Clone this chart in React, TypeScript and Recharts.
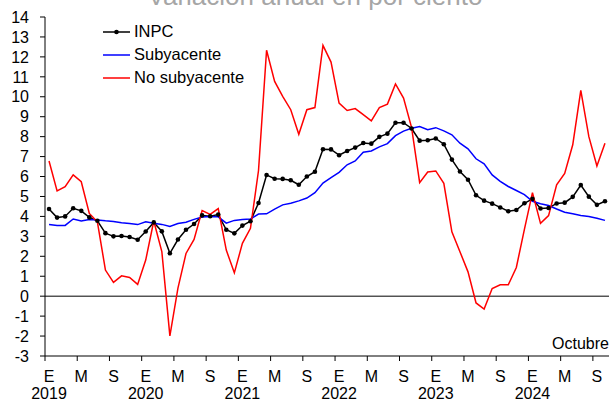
import React from "react";
import { LineChart, Line, XAxis, YAxis, ReferenceLine, Legend } from "recharts";

// variación anual en por ciento, enero 2019 - octubre 2024
const years = [2019, 2020, 2021, 2022, 2023, 2024];
const monthLetters = ["E", "F", "M", "A", "M", "J", "J", "A", "S", "O", "N", "D"];

const inpc = [
  4.37, 3.94, 4.0, 4.41, 4.28, 3.95, 3.78, 3.16, 3.0, 3.02, 2.97, 2.83,
  3.24, 3.7, 3.25, 2.15, 2.84, 3.33, 3.62, 4.05, 4.01, 4.09, 3.33, 3.15,
  3.54, 3.76, 4.67, 6.08, 5.89, 5.88, 5.81, 5.59, 6.0, 6.24, 7.37, 7.36,
  7.07, 7.28, 7.45, 7.68, 7.65, 7.99, 8.15, 8.7, 8.7, 8.41, 7.8, 7.82,
  7.91, 7.62, 6.85, 6.25, 5.84, 5.06, 4.79, 4.64, 4.45, 4.26, 4.32, 4.66,
  4.88, 4.4, 4.42, 4.65, 4.69, 4.98, 5.57, 4.99, 4.58, 4.76,
];
const subyacente = [
  3.6, 3.54, 3.55, 3.87, 3.77, 3.85, 3.82, 3.78, 3.75, 3.68, 3.65, 3.59,
  3.73, 3.66, 3.6, 3.5, 3.64, 3.71, 3.85, 3.97, 3.99, 3.98, 3.66, 3.8,
  3.84, 3.87, 4.12, 4.13, 4.37, 4.58, 4.66, 4.78, 4.92, 5.19, 5.67, 5.94,
  6.21, 6.59, 6.78, 7.22, 7.28, 7.49, 7.65, 8.05, 8.28, 8.42, 8.51, 8.35,
  8.45, 8.29, 8.09, 7.67, 7.39, 6.89, 6.64, 6.08, 5.76, 5.5, 5.3, 5.09,
  4.76, 4.64, 4.55, 4.37, 4.21, 4.13, 4.05, 4.0, 3.91, 3.8,
];
const noSubyacente = [
  6.78, 5.28, 5.49, 6.08, 5.74, 4.15, 3.73, 1.31, 0.69, 1.02, 0.94, 0.59,
  1.81, 3.77, 2.24, -1.99, 0.4, 2.14, 2.85, 4.29, 4.1, 4.39, 2.31, 1.17,
  2.65, 3.4, 6.3, 12.33, 10.77, 10.02, 9.35, 8.12, 9.35, 9.46, 12.58, 11.74,
  9.68, 9.31, 9.41, 9.1, 8.79, 9.46, 9.63, 10.64, 9.93, 8.45, 5.69, 6.23,
  6.28, 5.66, 3.23, 2.23, 1.22, -0.34, -0.65, 0.38, 0.57, 0.57, 1.44, 3.35,
  5.19, 3.65, 4.04, 5.58, 6.16, 7.59, 10.32, 8.0, 6.53, 7.67,
];
const yTicks = [-3, -2, -1, 0, 1, 2, 3, 4, 5, 6, 7, 8, 9, 10, 11, 12, 13, 14];

const series = [
  { key: "inpc", name: "INPC", color: "#000000", dot: true },
  { key: "sub", name: "Subyacente", color: "#0000ff", dot: false },
  { key: "noSub", name: "No subyacente", color: "#ff0000", dot: false },
];

const W = 610;
const H = 402;
const M_TOP = 17;
const M_RIGHT = 1;
const Y_W = 45;
const X_H = 46;
const PLOT_W = W - Y_W - M_RIGHT;
const PLOT_BOTTOM = H - X_H;
const HALF_BAND = PLOT_W / inpc.length / 2;
const FONT = "'Liberation Sans', Arial, sans-serif";

const data = inpc.map((v, i) => ({
  idx: i,
  inpc: v,
  sub: subyacente[i],
  noSub: noSubyacente[i],
}));

// tick marks sit between months, every four months (E, M, S)
const xTicks = data.filter((d) => d.idx % 4 === 0).map((d) => d.idx - 0.5);

const MonthTick = (props: any) => {
  const { x, payload } = props;
  const i = Math.round(payload.value + 0.5);
  const cx = x + HALF_BAND;
  return (
    <g>
      <line x1={x} x2={x} y1={PLOT_BOTTOM} y2={PLOT_BOTTOM + 5} stroke="#000" />
      <text x={cx} y={381.5} textAnchor="middle" fontSize={16} fill="#000" fontFamily={FONT}>
        {monthLetters[i % 12]}
      </text>
      {i % 12 === 0 && (
        <text x={cx} y={398.5} textAnchor="middle" fontSize={16} fill="#000" fontFamily={FONT}>
          {years[i / 12]}
        </text>
      )}
    </g>
  );
};

const LegendBox = () => (
  <div style={{ fontFamily: FONT, fontSize: 16.5, color: "#000" }}>
    {series.map((s) => (
      <div key={s.key} style={{ display: "flex", alignItems: "center", height: 23 }}>
        <svg width={27} height={10} style={{ marginRight: 4 }}>
          <line x1={0} x2={27} y1={5} y2={5} stroke={s.color} strokeWidth={1.5} />
          {s.dot && <circle cx={13.5} cy={5} r={2.3} fill={s.color} />}
        </svg>
        <span style={{ whiteSpace: "nowrap" }}>{s.name}</span>
      </div>
    ))}
  </div>
);

export default function App() {
  return (
    <div style={{ position: "absolute", left: 0, top: 0, width: W, height: H, background: "#fff" }}>
      <LineChart width={W} height={H} data={data} margin={{ top: M_TOP, right: M_RIGHT, bottom: 0, left: 0 }}>
        <XAxis
          dataKey="idx"
          type="number"
          domain={[-0.5, inpc.length - 0.5]}
          ticks={xTicks}
          interval={0}
          height={X_H}
          tickLine={false}
          axisLine={{ stroke: "#000" }}
          tick={<MonthTick />}
        />
        <YAxis
          type="number"
          domain={[-3, 14]}
          ticks={yTicks}
          interval={0}
          width={Y_W}
          tickSize={5}
          tickMargin={11}
          axisLine={{ stroke: "#000" }}
          tickLine={{ stroke: "#000" }}
          tick={{ fontSize: 16, fill: "#000", fontFamily: FONT }}
        />
        <ReferenceLine y={0} stroke="#000" strokeWidth={1} />
        <Legend
          layout="vertical"
          align="center"
          verticalAlign="middle"
          wrapperStyle={{ left: 103, top: 20, width: 200 }}
          content={() => <LegendBox />}
        />
        {series.map((s) => (
          <Line
            key={s.key}
            dataKey={s.key}
            name={s.name}
            type="linear"
            stroke={s.color}
            strokeWidth={1.5}
            dot={s.dot ? { r: 2.3, fill: s.color, stroke: s.color, strokeWidth: 0 } : false}
            activeDot={false}
            isAnimationActive={false}
          />
        ))}
      </LineChart>
      <svg width={W} height={H} style={{ position: "absolute", left: 0, top: 0, pointerEvents: "none" }}>
        <text x={315} y={5} textAnchor="middle" fontSize={26} fill="#a6a6a6" fontFamily={FONT}>
          Variación anual en por ciento
        </text>
        <text x={609} y={348.5} textAnchor="end" fontSize={16} fill="#000" fontFamily={FONT}>
          Octubre
        </text>
      </svg>
    </div>
  );
}
